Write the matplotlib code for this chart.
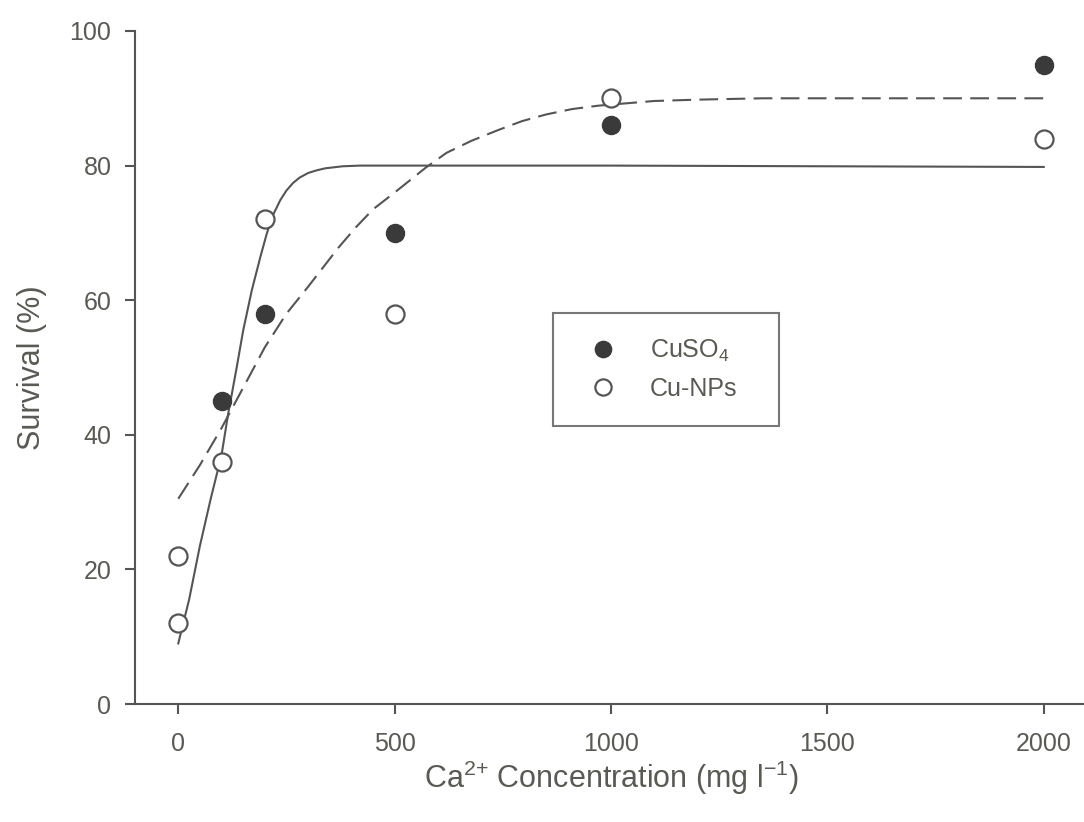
import matplotlib
matplotlib.use("Agg")
import matplotlib.pyplot as plt

# measured points
ca_cuso4 = [100, 200, 500, 1000, 2000]
surv_cuso4 = [45, 58, 70, 86, 95]
ca_nps = [0, 0, 100, 200, 500, 1000, 2000]
surv_nps = [22, 12, 36, 72, 58, 90, 84]

# fitted curves
fit_solid_x = [0, 25, 50, 75, 100, 115, 135, 150, 170, 190, 205, 220, 236,
               250, 265, 280, 300, 320, 340, 380, 420, 1000, 2000]
fit_solid_y = [9, 15.5, 23.5, 30.5, 37, 43, 50, 55.5, 61.5, 66.5, 70, 72.8,
               74.9, 76.3, 77.4, 78.2, 78.9, 79.3, 79.6, 79.9, 80, 80, 79.8]
fit_dash_x = [0, 50, 100, 150, 200, 250, 300, 370, 410, 450, 500, 572, 620,
              678, 740, 794, 850, 910, 970, 1025, 1100, 1200, 1350, 1500,
              2000]
fit_dash_y = [30.5, 35.5, 41, 47, 53, 58, 62, 67.8, 70.8, 73.5, 76, 79.7,
              81.9, 83.7, 85.3, 86.6, 87.6, 88.4, 88.9, 89.2, 89.6, 89.8,
              90, 90, 90]

xticks = [0, 500, 1000, 1500, 2000]
yticks = [0, 20, 40, 60, 80, 100]

plt.rcParams['font.family'] = ['Liberation Sans', 'DejaVu Sans']
plt.rcParams['mathtext.default'] = 'regular'

grey = '#555555'
txt = '#5a5a55'

fig = plt.figure(figsize=(10.84, 8.22), dpi=100)
ax = fig.add_axes([135 / 1084, 1 - 704 / 822, 952 / 1084, 673 / 822])

ax.plot(fit_solid_x, fit_solid_y, color=grey, lw=1.5)
ax.plot(fit_dash_x, fit_dash_y, color=grey, lw=1.5, linestyle=(0, (9, 4)))
ax.plot(ca_cuso4, surv_cuso4, 'o', ms=13, color='#3a3a3a',
        mec='#3a3a3a', label='CuSO$_4$', clip_on=False)
ax.plot(ca_nps, surv_nps, 'o', ms=13, mfc='white', mec=grey, mew=1.6,
        label='Cu-NPs', clip_on=False)

ax.set_xlim(-100, 2100)
ax.set_ylim(0, 100)
ax.set_xticks(xticks)
ax.set_yticks(yticks)
for s in ['top', 'right']:
    ax.spines[s].set_visible(False)
for s in ['left', 'bottom']:
    ax.spines[s].set_color(grey)
    ax.spines[s].set_linewidth(1.5)
ax.tick_params(direction='out', length=7, width=1.5, color=grey,
               labelsize=18, labelcolor=txt)
ax.tick_params(axis='x', pad=13)
ax.tick_params(axis='y', pad=10)

ax.set_xlabel('Ca$^{2{+}}$ Concentration (mg l$^{-1}$)', fontsize=22,
              color=txt, labelpad=2)
ax.set_ylabel('Survival (%)', fontsize=22, color=txt, labelpad=16)

leg = ax.legend(loc='upper left', bbox_to_anchor=(0.439, 0.411, 0.2374, 0.17),
                mode='expand', borderaxespad=0, fontsize=18, frameon=True,
                fancybox=False, borderpad=1.0, labelspacing=0.5,
                handlelength=2.0, handletextpad=0.88, markerscale=0.9,
                numpoints=1)
leg.get_frame().set_edgecolor(grey)
leg.get_frame().set_linewidth(1.5)
for t in leg.get_texts():
    t.set_color(txt)

fig.savefig('out.png', dpi=100)
